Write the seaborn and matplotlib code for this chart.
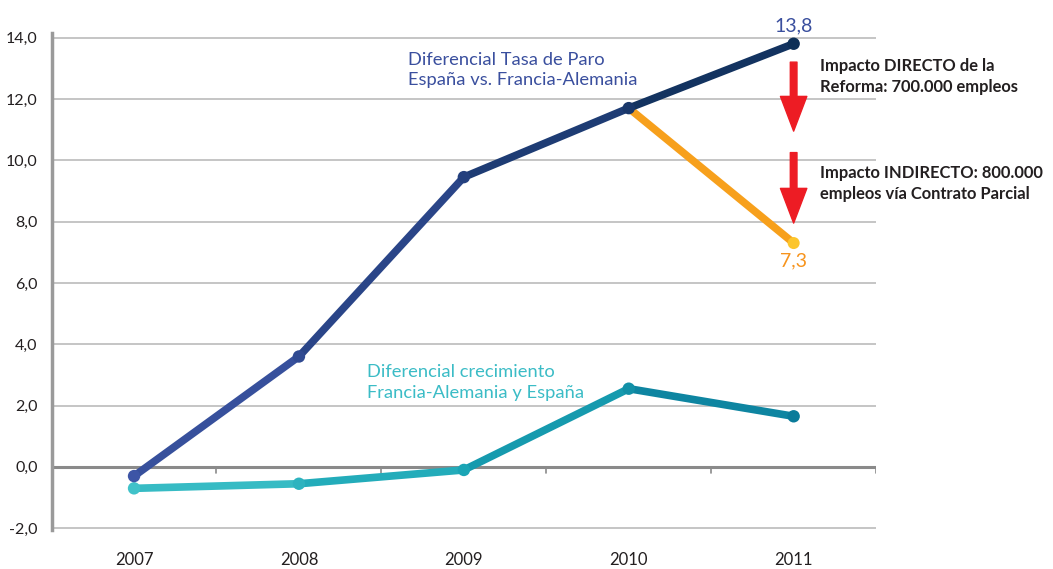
import matplotlib.pyplot as plt
import matplotlib.colors as mcolors
import numpy as np
import seaborn as sns

# datos
years = ['2007', '2008', '2009', '2010', '2011']
paro = [-0.3, 3.6, 9.45, 11.7, 13.8]          # Diferencial Tasa de Paro
crecimiento = [-0.7, -0.55, -0.1, 2.55, 1.65]  # Diferencial crecimiento
reforma_years = ['2010', '2011']
reforma = [11.7, 7.3]
y_ticks = [-2, 0, 2, 4, 6, 8, 10, 12, 14]

sns.set_theme(style="white")
plt.rcParams['font.family'] = ['Lato', 'DejaVu Sans']

fig = plt.figure(figsize=(10.53, 5.69), dpi=100)
ax = fig.add_axes([0.049, 0.069, 0.783, 0.873])

x = np.arange(len(years))
xr = np.array([years.index(y) for y in reforma_years])

paro_cmap = mcolors.LinearSegmentedColormap.from_list('paro', ['#3d55a6', '#24407e', '#0e2f57'])
crec_cmap = mcolors.LinearSegmentedColormap.from_list('crec', ['#40c2c9', '#1aa5b5', '#0a7b9a'])

# linea naranja (impacto reforma)
sns.lineplot(x=xr, y=reforma, color='#f7a01c', linewidth=5.5, ax=ax, zorder=3,
             solid_capstyle='round')
ax.scatter(xr[-1], reforma[-1], s=75, color='#fcc52c', zorder=4, edgecolor='none')

# lineas con degradado por segmentos
for vals, cmap, z in [(crecimiento, crec_cmap, 3), (paro, paro_cmap, 5)]:
    for i in range(len(x) - 1):
        sns.lineplot(x=x[i:i + 2], y=vals[i:i + 2], color=cmap((i + 0.5) / (len(x) - 1)),
                     linewidth=5.5, ax=ax, zorder=z, solid_capstyle='round')
    for i in range(len(x)):
        ax.scatter(x[i], vals[i], s=80, color=cmap(i / (len(x) - 1)), zorder=z + 1,
                   edgecolor='none')

# ejes y rejilla
ax.set_xlim(-0.5, 4.5)
ax.set_ylim(-2.05, 14.15)
ax.set_yticks(y_ticks)
ax.set_yticklabels([f'{v:.1f}'.replace('.', ',') for v in y_ticks], fontsize=11.5, color='#231f20')
ax.set_xticks(x)
ax.set_xticklabels(years, fontsize=12, color='#231f20')
ax.tick_params(axis='x', length=0, pad=16)
ax.tick_params(axis='y', length=0, pad=10)
for v in y_ticks:
    if v == 0:
        ax.axhline(v, color='#8a8a8a', linewidth=2.2, zorder=1)
    else:
        ax.axhline(v, color='#b5b5b5', linewidth=1.1, zorder=1)
for b in np.arange(0.5, 4.6, 1.0):
    ax.plot([b, b], [0, -0.2], color='#8a8a8a', linewidth=1.2, zorder=1)
for s in ['top', 'right', 'bottom']:
    ax.spines[s].set_visible(False)
ax.spines['left'].set_color('#9a9a9a')
ax.spines['left'].set_linewidth(2.5)
ax.grid(False)

# etiquetas de valores
ax.text(x[-1], paro[-1] + 0.3, f'{paro[-1]:.1f}'.replace('.', ','), color='#3a4f9e',
        fontsize=14, ha='center', va='bottom')
ax.text(xr[-1], reforma[-1] - 0.3, f'{reforma[-1]:.1f}'.replace('.', ','), color='#f7941d',
        fontsize=14, ha='center', va='top')

# etiquetas de series
ax.text(1.66, 12.95, 'Diferencial Tasa de Paro\nEspaña vs. Francia-Alemania', color='#3a4f9e',
        fontsize=13.2, ha='left', va='center', linespacing=1.35)
ax.text(1.41, 2.76, 'Diferencial crecimiento\nFrancia-Alemania y España', color='#3bbcc6',
        fontsize=13.2, ha='left', va='center', linespacing=1.35)

# flechas rojas
arrow = dict(arrowstyle='simple,head_length=1.25,head_width=0.95,tail_width=0.24',
             color='#ed1c24', mutation_scale=20, shrinkA=0, shrinkB=0)
ax.annotate('', xy=(4, 10.95), xytext=(4, 13.2), arrowprops=arrow, annotation_clip=False)
ax.annotate('', xy=(4, 7.95), xytext=(4, 10.25), arrowprops=arrow, annotation_clip=False)

ax.text(4.16, 12.73, 'Impacto DIRECTO de la\nReforma: 700.000 empleos', color='#231f20',
        fontsize=11.9, fontweight='bold', ha='left', va='center', linespacing=1.4)
ax.text(4.16, 9.25, 'Impacto INDIRECTO: 800.000\nempleos vía Contrato Parcial', color='#231f20',
        fontsize=11.9, fontweight='bold', ha='left', va='center', linespacing=1.4)

plt.savefig('out.png', dpi=100)
